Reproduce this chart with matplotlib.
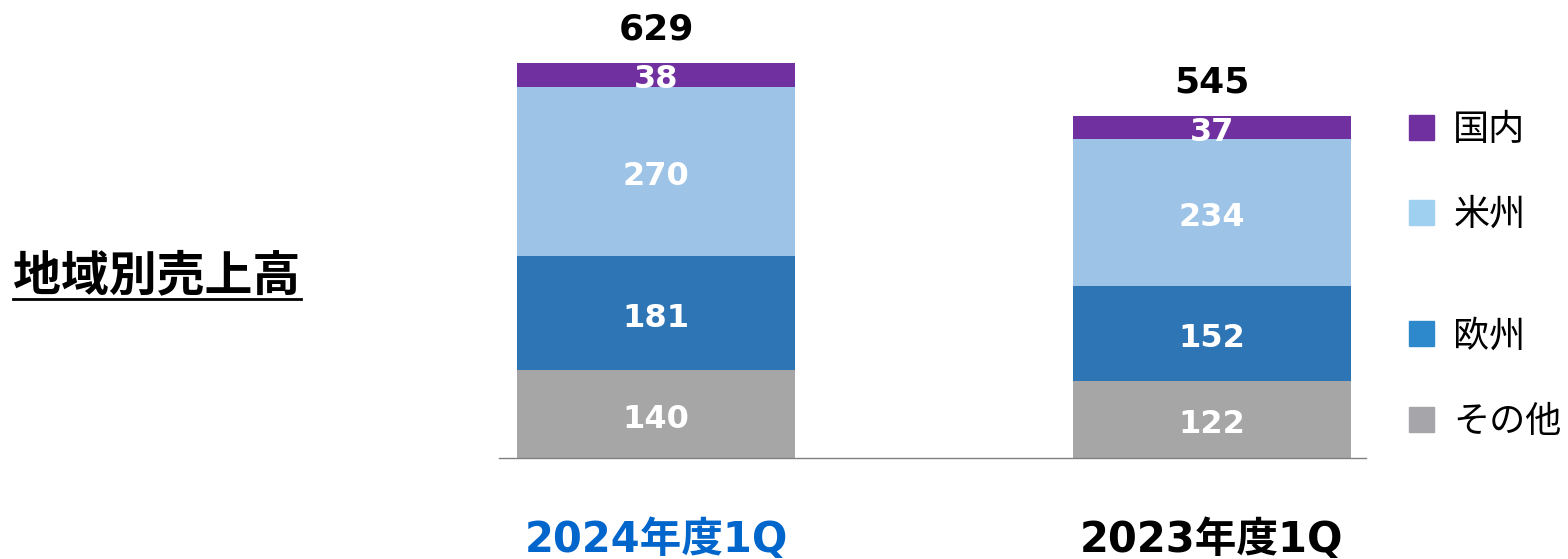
import matplotlib
matplotlib.use('Agg')
import matplotlib.pyplot as plt
from matplotlib.patches import Rectangle
from matplotlib.lines import Line2D

plt.rcParams['font.family'] = ['DejaVu Sans', 'Noto Sans CJK JP']

periods = ['2024年度1Q', '2023年度1Q']
period_colors = ['#0066CC', '#000000']
regions = ['その他', '欧州', '米州', '国内']
other = [140, 122]
europe = [181, 152]
americas = [270, 234]
domestic = [38, 37]
totals = [629, 545]

bar_colors = ['#A6A6A6', '#2E75B6', '#9DC3E6', '#7030A0']
legend_colors = ['#A5A5AA', '#2E88CC', '#A0D0F0', '#7030A0']

fig = plt.figure(figsize=(15.68, 5.59), dpi=100)
ax = fig.add_axes([499/1568, 101/559, 867/1568, 458/559])

x = [0, 1]
series = [other, europe, americas, domestic]
bottoms = [0, 0]
for vals, col in zip(series, bar_colors):
    bars = ax.bar(x, vals, width=0.5, bottom=bottoms, color=col, zorder=2)
    for xi, v, b in zip(x, vals, bottoms):
        ax.text(xi, b + v / 2 - 8, str(v), ha='center', va='center',
                color='white', fontsize=23, fontweight='bold', zorder=3)
    bottoms = [b + v for b, v in zip(bottoms, vals)]

for xi, t in zip(x, totals):
    ax.annotate(str(t), (xi, t), xytext=(0, 12), textcoords='offset points',
                ha='center', va='bottom', fontsize=26, fontweight='bold')

for xi, lab, c in zip(x, periods, period_colors):
    ax.text(xi, -0.18, lab, transform=ax.get_xaxis_transform(),
            ha='center', va='center', fontsize=30, fontweight='bold', color=c)

# legend aligned with the segments of the second bar
bottoms = [0]
for vals, name, col in zip(series, regions, legend_colors):
    mid = bottoms[0] + vals[1] / 2
    ax.add_patch(Rectangle((1.354, mid - 20), 0.045, 40, color=col,
                           clip_on=False, transform=ax.transData))
    ax.text(1.434, mid - 4, name, ha='left', va='center', fontsize=26,
            family=['Noto Sans CJK JP'], clip_on=False)
    bottoms[0] += vals[1]

ax.set_xlim(-0.2824, 1.2770)
ax.set_ylim(0, 729.3)
ax.set_xticks([])
ax.set_yticks([])
for s in ['top', 'left', 'right']:
    ax.spines[s].set_visible(False)
ax.spines['bottom'].set_color('#808080')
ax.spines['bottom'].set_linewidth(1.0)

# underlined heading on the left
title = fig.text(157/1568, 1 - 276/559, '地域別売上高', ha='center', va='center',
                 fontsize=34.5, fontweight='bold', family=['Noto Sans CJK JP'])
fig.canvas.draw()
bb = title.get_window_extent().transformed(fig.transFigure.inverted())
fig.add_artist(Line2D([bb.x0, bb.x1], [1 - 299/559, 1 - 299/559],
                      color='black', linewidth=2))

plt.savefig('out.png', dpi=100)
